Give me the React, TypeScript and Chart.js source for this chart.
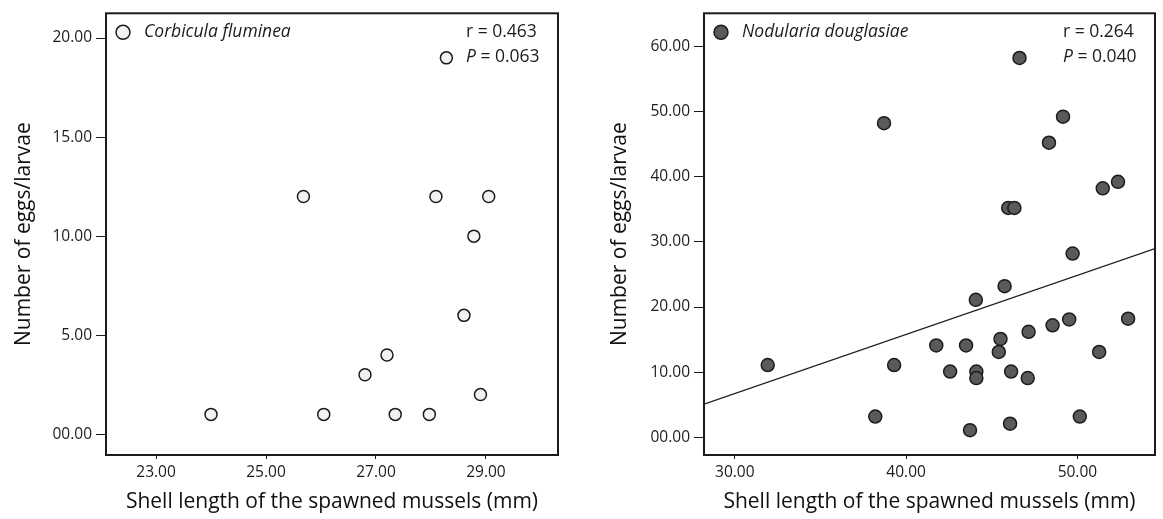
import React, { useEffect, useRef } from 'react';
import { Chart, registerables } from 'chart.js';

Chart.register(...registerables);

// ---------- data ----------
const corbiculaShellLength = [24.0, 26.05, 26.8, 27.2, 27.35, 27.97, 28.6, 28.9, 25.68, 28.09, 29.05, 28.78, 28.28];
const corbiculaEggCount = [1, 1, 3, 4, 1, 1, 6, 2, 12, 12, 12, 10, 19];

const nodulariaShellLength = [
  46.62, 38.71, 49.16, 48.34, 51.48, 52.37, 45.96, 46.32, 49.72, 31.92, 39.3,
  38.2, 43.73, 46.07, 50.14, 45.75, 44.07, 49.52, 52.96, 48.55, 47.15, 45.51,
  45.41, 41.76, 43.5, 51.27, 42.57, 44.1, 44.1, 46.13, 47.1,
];
const nodulariaEggCount = [
  58.2, 48.2, 49.2, 45.2, 38.2, 39.2, 35.2, 35.2, 28.2, 11.1, 11.1,
  3.2, 1.1, 2.1, 3.2, 23.2, 21.1, 18.1, 18.2, 17.2, 16.2, 15.1,
  13.1, 14.1, 14.1, 13.1, 10.1, 10.1, 9.1, 10.1, 9.1,
];

const nodulariaFitIntercept = -20.49;
const nodulariaFitSlope = 0.907;

const corbiculaXTicks = [23, 25, 27, 29];
const corbiculaYTicks = [0, 5, 10, 15, 20];
const nodulariaXTicks = [30, 40, 50];
const nodulariaYTicks = [0, 10, 20, 30, 40, 50, 60];

const corbiculaStats = { r: '0.463', p: '0.063' };
const nodulariaStats = { r: '0.264', p: '0.040' };

const X_TITLE = 'Shell length of the spawned mussels (mm)';
const Y_TITLE = 'Number of eggs/larvae';

// ---------- styling ----------
const FONT = "'Open Sans', 'DejaVu Sans', sans-serif";
const INK = '#1c1c1c';

const fmtTick = (v: number) => (v === 0 ? '00.00' : v.toFixed(2));

const frameAndLabels = {
  id: 'frameAndLabels',
  afterDraw(chart: any, _args: any, opts: any) {
    const { ctx, chartArea: a } = chart;
    ctx.save();
    // frame
    ctx.strokeStyle = INK;
    ctx.lineWidth = 2;
    ctx.strokeRect(a.left, a.top, a.right - a.left, a.bottom - a.top);

    // species legend
    const cy = a.top + 19;
    ctx.beginPath();
    ctx.arc(a.left + 17, cy, 7, 0, Math.PI * 2);
    ctx.fillStyle = opts.markerFill;
    ctx.fill();
    ctx.lineWidth = 1.5;
    ctx.strokeStyle = INK;
    ctx.stroke();

    ctx.fillStyle = INK;
    ctx.textBaseline = 'middle';
    ctx.textAlign = 'left';
    ctx.font = `italic 17.5px ${FONT}`;
    ctx.fillText(opts.species, a.left + 38, cy);

    // statistics
    const sx = a.right - 92;
    ctx.font = `17.5px ${FONT}`;
    ctx.fillText(`r = ${opts.r}`, sx, cy);
    const py = a.top + 43.5;
    ctx.font = `italic 17.5px ${FONT}`;
    ctx.fillText('P', sx, py);
    const pw = ctx.measureText('P').width;
    ctx.font = `17.5px ${FONT}`;
    ctx.fillText(` = ${opts.p}`, sx + pw, py);
    ctx.restore();
  },
};

type PanelProps = {
  left: number;
  width: number;
  xs: number[];
  ys: number[];
  xMin: number;
  xMax: number;
  yMin: number;
  yMax: number;
  xTicks: number[];
  yTicks: number[];
  yAxisWidth: number;
  yTitlePad: number;
  rightPad: number;
  markerFill: string;
  markerRadius: number;
  species: string;
  r: string;
  p: string;
  fit?: { intercept: number; slope: number };
};

function ScatterPanel(props: PanelProps) {
  const ref = useRef<HTMLCanvasElement | null>(null);

  useEffect(() => {
    if (!ref.current) return;
    const points = props.xs.map((x, i) => ({ x, y: props.ys[i] }));
    const datasets: any[] = [
      {
        type: 'scatter',
        data: points,
        pointRadius: props.markerRadius,
        pointBackgroundColor: props.markerFill,
        pointBorderColor: INK,
        pointBorderWidth: 1.5,
        order: 1,
      },
    ];
    if (props.fit) {
      const ends = [props.xMin, props.xMax];
      datasets.push({
        type: 'line',
        data: ends.map((x) => ({ x, y: props.fit!.intercept + props.fit!.slope * x })),
        borderColor: INK,
        borderWidth: 1.3,
        pointRadius: 0,
        fill: false,
        order: 2,
      });
    }

    const chart = new Chart(ref.current, {
      type: 'scatter',
      data: { datasets },
      plugins: [frameAndLabels as any],
      options: {
        responsive: false,
        animation: false,
        devicePixelRatio: 1,
        layout: { padding: { top: 9, right: props.rightPad, bottom: 0, left: 0 } },
        plugins: {
          legend: { display: false },
          tooltip: { enabled: false },
          frameAndLabels: {
            species: props.species,
            r: props.r,
            p: props.p,
            markerFill: props.markerFill,
          },
        } as any,
        scales: {
          x: {
            type: 'linear',
            min: props.xMin,
            max: props.xMax,
            afterBuildTicks: (s: any) => {
              s.ticks = props.xTicks.map((v) => ({ value: v }));
            },
            afterFit: (s: any) => {
              s.height = 64;
            },
            ticks: {
              callback: (v: any) => fmtTick(Number(v)),
              font: { family: FONT, size: 15.5 },
              color: INK,
              padding: 4,
              maxRotation: 0,
              autoSkip: false,
            },
            grid: { drawOnChartArea: false, drawTicks: true, tickLength: 4, color: INK, lineWidth: 1 },
            border: { display: false },
            title: {
              display: true,
              text: X_TITLE,
              font: { family: FONT, size: 21 },
              color: '#111',
              padding: { top: 0, bottom: 4 },
            },
          },
          y: {
            type: 'linear',
            min: props.yMin,
            max: props.yMax,
            afterBuildTicks: (s: any) => {
              s.ticks = props.yTicks.map((v) => ({ value: v }));
            },
            afterFit: (s: any) => {
              s.width = props.yAxisWidth;
            },
            ticks: {
              callback: (v: any) => fmtTick(Number(v)),
              font: { family: FONT, size: 15.5 },
              color: INK,
              padding: 4,
              autoSkip: false,
            },
            grid: { drawOnChartArea: false, drawTicks: true, tickLength: 10, color: INK, lineWidth: 1 },
            border: { display: false },
            title: {
              display: true,
              text: Y_TITLE,
              font: { family: FONT, size: 21 },
              color: '#111',
              padding: { top: props.yTitlePad, bottom: 0 },
            },
          },
        },
      } as any,
    });
    return () => chart.destroy();
  }, []);

  return (
    <canvas
      ref={ref}
      width={props.width}
      height={519}
      style={{ position: 'absolute', left: props.left, top: 0, width: props.width, height: 519 }}
    />
  );
}

export default function App() {
  return (
    <div style={{ position: 'absolute', left: 0, top: 0, width: 1163, height: 519, background: '#ffffff', overflow: 'hidden' }}>
      <ScatterPanel
        left={0}
        width={580}
        xs={corbiculaShellLength}
        ys={corbiculaEggCount}
        xMin={22.09}
        xMax={30.31}
        yMin={-1.05}
        yMax={21.25}
        xTicks={corbiculaXTicks}
        yTicks={corbiculaYTicks}
        yAxisWidth={106}
        yTitlePad={11}
        rightPad={22}
        markerFill="#f2f2f2"
        markerRadius={6}
        species="Corbicula fluminea"
        r={corbiculaStats.r}
        p={corbiculaStats.p}
      />
      <ScatterPanel
        left={590}
        width={573}
        xs={nodulariaShellLength}
        ys={nodulariaEggCount}
        xMin={28.2}
        xMax={54.53}
        yMin={-2.7}
        yMax={65.05}
        xTicks={nodulariaXTicks}
        yTicks={nodulariaYTicks}
        yAxisWidth={114}
        yTitlePad={17}
        rightPad={5}
        markerFill="#5a5a5a"
        markerRadius={6.5}
        species="Nodularia douglasiae"
        r={nodulariaStats.r}
        p={nodulariaStats.p}
        fit={{ intercept: nodulariaFitIntercept, slope: nodulariaFitSlope }}
      />
    </div>
  );
}
